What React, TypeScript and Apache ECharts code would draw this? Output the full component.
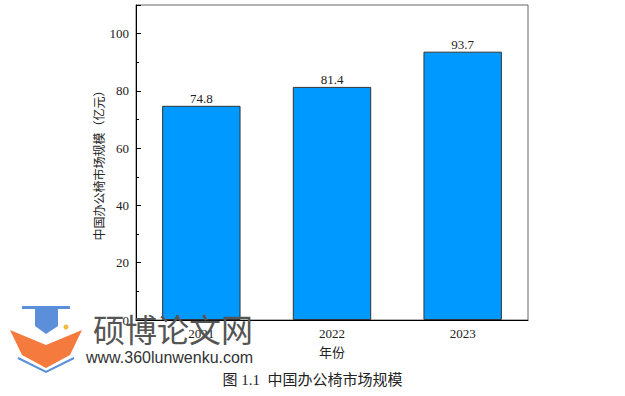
import React, { useEffect, useRef } from "react";
import * as echarts from "echarts";

const categories = ["2021", "2022", "2023"];
const values = [74.8, 81.4, 93.7];
const yAxisName = "中国办公椅市场规模（亿元）";
const xAxisName = "年份";
const caption = "图 1.1  中国办公椅市场规模";
const watermarkTitle = "硕博论文网";
const watermarkUrl = "www.360lunwenku.com";

export default function App() {
  const ref = useRef<HTMLDivElement>(null);
  useEffect(() => {
    if (!ref.current) return;
    const chart = echarts.init(ref.current, undefined, { renderer: "svg" });
    const serif = "'Liberation Serif', 'Times New Roman', serif";
    const cjk = "'Liberation Serif', 'Noto Sans CJK SC', serif";
    chart.setOption({
      animation: false,
      backgroundColor: "#ffffff",
      grid: {
        left: 136,
        top: 5,
        width: 392,
        height: 315,
        show: true,
        borderColor: "#666666",
        borderWidth: 1,
        backgroundColor: "transparent",
      },
      xAxis: [
        {
          type: "category",
          data: categories,
          boundaryGap: true,
          axisLine: { lineStyle: { color: "#000", width: 1 } },
          axisTick: { inside: true, alignWithLabel: true, length: 6, lineStyle: { color: "#000" } },
          axisLabel: { color: "#222", fontFamily: serif, fontSize: 13, margin: 7 },
          name: xAxisName,
          nameLocation: "middle",
          nameGap: 26,
          nameMoveOverlap: false,
          nameTextStyle: { color: "#222", fontFamily: cjk, fontSize: 13 },
          splitLine: { show: false },
          z: 5,
        },
        {
          type: "category",
          data: categories,
          boundaryGap: true,
          position: "bottom",
          axisLine: { show: false },
          axisTick: { inside: true, length: 3, lineStyle: { color: "#000" } },
          axisLabel: { show: false },
          splitLine: { show: false },
        },
      ],
      yAxis: {
        type: "value",
        min: 0,
        max: 110,
        interval: 20,
        axisLine: { show: true, lineStyle: { color: "#000", width: 1 } },
        axisTick: { show: true, inside: true, length: 5, lineStyle: { color: "#000" } },
        minorTick: { show: true, splitNumber: 2, length: 3, lineStyle: { color: "#000" } },
        axisLabel: {
          color: "#222",
          fontFamily: serif,
          fontSize: 13,
          margin: 7,
          showMaxLabel: false,
          formatter: (v: number) => (v > 100 ? "" : String(v)),
        },
        splitLine: { show: false },
        name: yAxisName,
        nameLocation: "middle",
        nameGap: 30,
        nameMoveOverlap: false,
        nameRotate: 90,
        nameTextStyle: { color: "#222", fontFamily: cjk, fontSize: 12 },
        z: 5,
      },
      series: [
        {
          type: "bar",
          data: values,
          xAxisIndex: 0,
          barWidth: "60%",
          itemStyle: { color: "#0099ff", borderColor: "#333333", borderWidth: 1 },
          label: {
            show: true,
            position: "top",
            distance: 1,
            color: "#222",
            fontFamily: serif,
            fontSize: 13,
            formatter: (p: any) => p.value.toFixed(1),
          },
        },
      ],
      graphic: [
        {
          type: "text",
          left: "center",
          top: 372,
          style: { text: caption, fill: "#222", font: "15px 'Liberation Serif', 'Noto Sans CJK SC', serif" },
        },
        // watermark logo (approximate)
        {
          type: "polygon",
          shape: { points: [[10, 330], [46, 345], [82, 330], [70, 355], [46, 368], [22, 355]] },
          style: { fill: "#f47a3e" },
        },
        {
          type: "polygon",
          shape: { points: [[22, 306], [70, 306], [70, 309], [22, 309]] },
          style: { fill: "#5b8fd9" },
        },
        {
          type: "polygon",
          shape: { points: [[35, 309], [58, 309], [58, 326], [46, 334], [35, 326]] },
          style: { fill: "#5b8fd9" },
        },
        {
          type: "polyline",
          shape: { points: [[18, 358], [46, 372], [74, 358]] },
          style: { stroke: "#5b8fd9", lineWidth: 2, fill: "none" },
        },
        {
          type: "circle",
          shape: { cx: 66, cy: 327, r: 2.5 },
          style: { fill: "#f5b942" },
        },
        {
          type: "text",
          x: 93,
          y: 312,
          style: { text: watermarkTitle, fill: "#555555", font: "32px 'Noto Sans CJK SC', sans-serif" },
          z: 100,
        },
        {
          type: "text",
          x: 86,
          y: 349,
          style: { text: watermarkUrl, fill: "#333333", font: "16px 'Liberation Sans', Arial, sans-serif" },
          z: 100,
        },
      ],
    });
    return () => chart.dispose();
  }, []);
  return (
    <div
      ref={ref}
      style={{ position: "fixed", left: 0, top: 0, width: 625, height: 396, background: "#fff" }}
    />
  );
}
